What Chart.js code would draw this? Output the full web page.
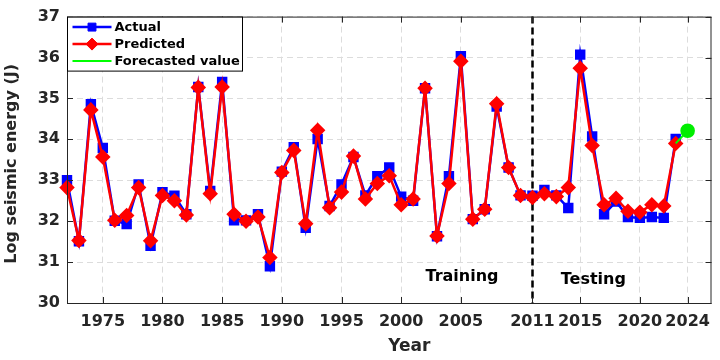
<!DOCTYPE html>
<html>
<head>
<meta charset="utf-8">
<script src="https://cdn.jsdelivr.net/npm/chart.js@4.4.1/dist/chart.umd.min.js"></script>
<style>
  html, body { margin: 0; padding: 0; background: #fff; }
  #wrap { width: 720px; height: 360px; }
</style>
</head>
<body>
<div id="wrap"><canvas id="seismic"></canvas></div>
<script>
// data
const years = [1972, 1973, 1974, 1975, 1976, 1977, 1978, 1979, 1980, 1981,
               1982, 1983, 1984, 1985, 1986, 1987, 1988, 1989, 1990, 1991,
               1992, 1993, 1994, 1995, 1996, 1997, 1998, 1999, 2000, 2001,
               2002, 2003, 2004, 2005, 2006, 2007, 2008, 2009, 2010, 2011,
               2012, 2013, 2014, 2015, 2016, 2017, 2018, 2019, 2020, 2021,
               2022, 2023];
const actual = [33.00, 31.51, 34.86, 33.79, 32.01, 31.93, 32.90, 31.40, 32.71, 32.62,
                32.17, 35.28, 32.74, 35.40, 32.02, 32.02, 32.17, 30.90, 33.21, 33.81,
                31.84, 34.01, 32.37, 32.90, 33.57, 32.63, 33.10, 33.31, 32.60, 32.50,
                35.25, 31.63, 33.10, 36.03, 32.05, 32.29, 34.80, 33.31, 32.63, 32.62,
                32.76, 32.63, 32.32, 36.07, 34.07, 32.17, 32.48, 32.10, 32.08, 32.10,
                32.08, 34.01];
const predicted = [32.82, 31.53, 34.72, 33.57, 32.02, 32.14, 32.82, 31.52, 32.63, 32.50,
                   32.15, 35.27, 32.67, 35.28, 32.17, 32.00, 32.10, 31.11, 33.19, 33.73,
                   31.94, 34.22, 32.33, 32.71, 33.59, 32.54, 32.92, 33.11, 32.40, 32.54,
                   35.25, 31.64, 32.92, 35.91, 32.05, 32.29, 34.87, 33.31, 32.63, 32.58,
                   32.67, 32.60, 32.82, 35.74, 33.85, 32.40, 32.56, 32.24, 32.22, 32.40,
                   32.37, 33.90];
const forecastYears = [2023, 2024];
const forecast = [33.90, 34.21];

const xTicks = [1975, 1980, 1985, 1990, 1995, 2000, 2005, 2011, 2015, 2020, 2024];
const splitYear = 2011;
const phaseLabels = [
    { text: "Training", x: 2005.1, y: 30.63 },
    { text: "Testing",  x: 2016.1, y: 30.57 }
];

const FONT = "'DejaVu Sans', sans-serif";
const INK = "#262626";

const toPoints = (xs, ys) => xs.map((x, i) => ({ x: x, y: ys[i] }));

// frame, inward ticks, split line, labels, legend drawn on the canvas
const decorations = {
    id: "decorations",
    beforeDatasetsDraw(chart) {
        const { ctx, chartArea: a, scales: { x } } = chart;
        const px = Math.round(x.getPixelForValue(splitYear)) + 0.5;
        ctx.save();
        ctx.strokeStyle = "#000";
        ctx.lineWidth = 2.5;
        ctx.setLineDash([7, 4]);
        ctx.beginPath();
        ctx.moveTo(px, a.top);
        ctx.lineTo(px, a.bottom);
        ctx.stroke();
        ctx.restore();
    },
    afterDraw(chart) {
        const { ctx, chartArea: a, scales: { x, y } } = chart;
        ctx.save();

        // axes box + ticks pointing inward
        ctx.strokeStyle = INK;
        ctx.lineWidth = 1;
        ctx.strokeRect(a.left + 0.5, a.top + 0.5, a.right - a.left - 1, a.bottom - a.top);
        ctx.beginPath();
        x.ticks.forEach(t => {
            const p = Math.round(x.getPixelForValue(t.value)) + 0.5;
            ctx.moveTo(p, a.bottom); ctx.lineTo(p, a.bottom - 6);
            ctx.moveTo(p, a.top); ctx.lineTo(p, a.top + 6);
        });
        y.ticks.forEach(t => {
            const p = Math.round(y.getPixelForValue(t.value)) + 0.5;
            ctx.moveTo(a.left, p); ctx.lineTo(a.left + 6, p);
            ctx.moveTo(a.right, p); ctx.lineTo(a.right - 6, p);
        });
        ctx.stroke();

        // phase labels
        ctx.fillStyle = "#000";
        ctx.font = "bold 16px " + FONT;
        ctx.textAlign = "center";
        ctx.textBaseline = "middle";
        phaseLabels.forEach(l => ctx.fillText(l.text, x.getPixelForValue(l.x), y.getPixelForValue(l.y)));

        // axis titles
        ctx.fillStyle = INK;
        ctx.font = "bold 17px " + FONT;
        ctx.fillText("Year", (a.left + a.right) / 2 + 20, 347);
        ctx.save();
        ctx.translate(12, (a.top + a.bottom) / 2 + 4);
        ctx.rotate(-Math.PI / 2);
        ctx.font = "bold 16px " + FONT;
        ctx.fillText("Log seismic energy (J)", 0, 0);
        ctx.restore();

        // legend box in the upper left corner
        const bx = a.left + 0.5, by = a.top + 0.5, bw = 175, bh = 54;
        ctx.fillStyle = "#fff";
        ctx.fillRect(bx, by, bw, bh);
        ctx.strokeStyle = "#000";
        ctx.strokeRect(bx, by, bw, bh);
        chart.data.datasets.forEach((ds, i) => {
            const cy = by + 10 + i * 17;
            ctx.strokeStyle = ds.borderColor;
            ctx.lineWidth = ds.borderWidth;
            ctx.beginPath();
            ctx.moveTo(bx + 5, cy);
            ctx.lineTo(bx + 44, cy);
            ctx.stroke();
            if (ds.legendMarker) {
                ctx.fillStyle = ds.pointBackgroundColor;
                ctx.strokeStyle = ds.pointBorderColor;
                ctx.lineWidth = 1;
                Chart.helpers.drawPoint(ctx, { pointStyle: ds.pointStyle, radius: ds.pointRadius, borderWidth: 1 }, bx + 24.5, cy);
            }
            ctx.fillStyle = "#000";
            ctx.font = "bold 13px " + FONT;
            ctx.textAlign = "left";
            ctx.fillText(ds.label, bx + 47, cy + 1);
        });
        ctx.restore();
    }
};

new Chart(document.getElementById("seismic"), {
    type: "line",
    data: {
        datasets: [{
            label: "Actual",
            data: toPoints(years, actual),
            order: 3,
            clip: false,
            borderColor: "#0000ff",
            borderWidth: 2.5,
            pointStyle: "rect",
            pointRadius: 5.6,
            pointBackgroundColor: "#0000ff",
            pointBorderColor: "#0000ff",
            legendMarker: true,
            tension: 0
        }, {
            label: "Predicted",
            data: toPoints(years, predicted),
            order: 2,
            clip: false,
            borderColor: "#ff0000",
            borderWidth: 2.5,
            pointStyle: "rectRot",
            pointRadius: 6,
            pointBackgroundColor: "#ff0000",
            pointBorderColor: "#ff0000",
            legendMarker: true,
            tension: 0
        }, {
            label: "Forecasted value",
            data: toPoints(forecastYears, forecast),
            order: 1,
            clip: false,
            borderColor: "#00ff00",
            borderWidth: 2,
            pointStyle: "circle",
            pointRadius: [0, 6.3],
            pointBackgroundColor: "#00ee00",
            pointBorderColor: "#00ee00",
            legendMarker: false,
            tension: 0
        }]
    },
    options: {
        responsive: true,
        maintainAspectRatio: false,
        animation: false,
        layout: { padding: { top: 9, right: 8, left: 0, bottom: 0 } },
        plugins: { legend: { display: false }, tooltip: { enabled: false } },
        scales: {
            x: {
                type: "linear",
                min: 1972,
                max: 2026,
                afterBuildTicks: scale => { scale.ticks = xTicks.map(v => ({ value: v })); },
                afterFit: scale => { scale.height = 57; },
                grid: { color: "#dcdcdc", lineWidth: 1, drawTicks: false },
                border: { display: false, dash: [6, 4] },
                ticks: {
                    color: INK,
                    padding: 9,
                    maxRotation: 0,
                    autoSkip: false,
                    font: { family: FONT, size: 16, weight: "bold" },
                    callback: v => String(v)
                }
            },
            y: {
                min: 30,
                max: 37,
                afterFit: scale => { scale.width = 67; },
                grid: { color: "#dcdcdc", lineWidth: 1, drawTicks: false },
                border: { display: false, dash: [6, 4] },
                ticks: {
                    stepSize: 1,
                    color: INK,
                    padding: 7,
                    font: { family: FONT, size: 16, weight: "bold" }
                }
            }
        }
    },
    plugins: [decorations]
});
</script>
</body>
</html>
